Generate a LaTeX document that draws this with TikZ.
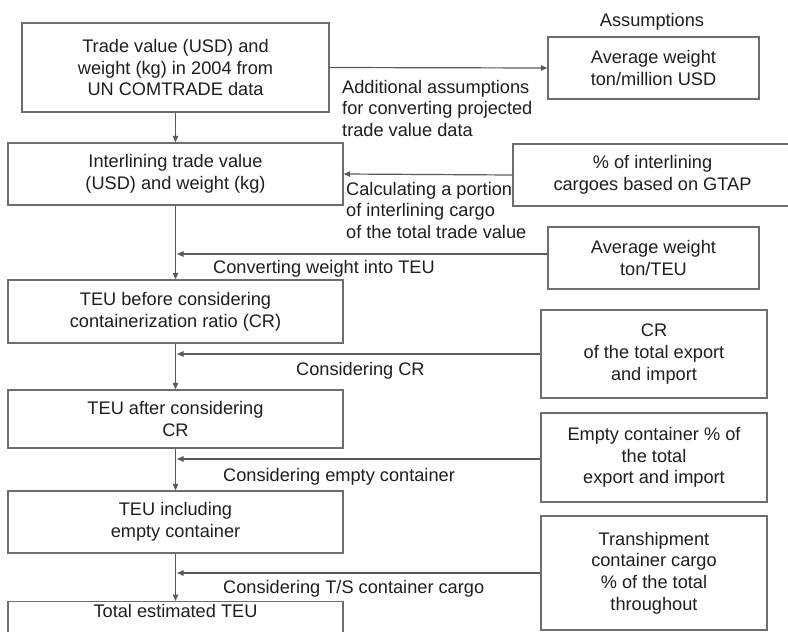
\documentclass[tikz,border=0pt]{standalone}
\usepackage{fontspec}
\setmainfont{Liberation Sans}
\usetikzlibrary{arrows.meta}
\definecolor{linegray}{HTML}{5A5A5A}
\definecolor{boxgray}{HTML}{6E6E6E}
\definecolor{ink}{HTML}{1E1E1E}
\begin{document}
\begin{tikzpicture}[x=1pt,y=-1pt,
  every node/.style={font=\fontsize{18.2}{21.7}\selectfont, text=ink},
  box/.style={draw=boxgray, line width=1.4pt, rectangle, align=center, inner sep=2pt},
  arr/.style={draw=linegray, line width=1.2pt, -{Triangle[length=6.5pt,width=5.5pt]}},
  lbl/.style={inner sep=0pt, align=left}]
\useasboundingbox (0,0) rectangle (788,632);
\clip (0,0) rectangle (788,632);

% main chain
\node[box, minimum width=307, minimum height=89] (b1) at (175.5,67.5)
  {Trade value (USD) and\\weight (kg) in 2004 from\\UN COMTRADE data};
\node[box, minimum width=335, minimum height=62] (b2) at (175.5,174)
  {Interlining trade value\\(USD) and weight (kg)};
\node[box, minimum width=335, minimum height=63] (b3) at (175.5,311.5)
  {TEU before considering\\containerization ratio (CR)};
\node[box, minimum width=335, minimum height=58] (b4) at (175.5,419)
  {TEU after considering\\CR};
\node[box, minimum width=335, minimum height=62] (b5) at (175.5,522)
  {TEU including\\empty container};
\node[box, minimum width=335, anchor=north, inner ysep=2.5pt,
      text height=13.5pt, text depth=40pt] (b6) at (175.5,601)
  {Total estimated TEU};

% assumption boxes
\node[anchor=base] (head) at (652,26) {Assumptions};
\node[box, minimum width=211, minimum height=62] (a1) at (653.5,68)
  {Average weight\\ton/million USD};
\node[box, minimum width=279, minimum height=62] (a2) at (652.5,175)
  {\% of interlining\\cargoes based on GTAP};
\node[box, minimum width=211, minimum height=62] (a3) at (653.5,258)
  {Average weight\\ton/TEU};
\node[box, minimum width=226, minimum height=88] (a4) at (654,354)
  {CR\\of the total export\\and import};
\node[box, minimum width=226, minimum height=89] (a5) at (654,457.5)
  {Empty container \% of\\the total\\export and import};
\node[box, minimum width=226, minimum height=114] (a6) at (654,573)
  {Transhipment\\container cargo\\\% of the total\\throughout};

% junctions on the main trunk
\coordinate (j3) at (177,254);
\coordinate (j4) at (177,354);
\coordinate (j5) at (177,459);
\coordinate (j6) at (177,573);

% connectors
\draw[arr] (b1) -- (b2);
\draw[arr] (b2) -- (b3);
\draw[arr] (b3) -- (b4);
\draw[arr] (b4) -- (b5);
\draw[arr] (b5) -- (b6);
\draw[arr] (b1.east) -- (a1.west);
\draw[arr] (a2.west) -- (b2.east);
\draw[arr] ([yshift=4pt]a3.west) -- (j3);
\draw[arr] (a4.west) -- (j4);
\draw[arr] ([yshift=-1.5pt]a5.west) -- (j5);
\draw[arr] (a6.west) -- (j6);

% connector labels
\node[lbl, anchor=north west] (l1) at (342,79.7)
  {Additional assumptions\\for converting projected\\trade value data};
\node[lbl, anchor=north west] (l2) at (346,181.7)
  {Calculating a portion\\of interlining cargo\\of the total trade value};
\node[lbl, anchor=base west] (l3) at (213,273) {Converting weight into TEU};
\node[lbl, anchor=base west] (l4) at (296,375) {Considering CR};
\node[lbl, anchor=base west] (l5) at (223,481) {Considering empty container};
\node[lbl, anchor=base west] (l6) at (223,593) {Considering T/S container cargo};
\end{tikzpicture}
\end{document}
